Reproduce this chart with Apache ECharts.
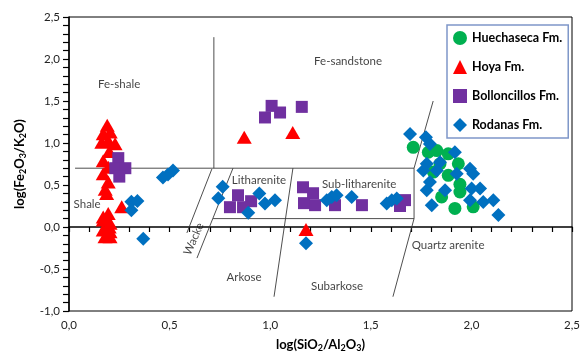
<!DOCTYPE html>
<html><head><meta charset="utf-8">
<script src="https://cdn.jsdelivr.net/npm/echarts@6/dist/echarts.min.js"></script>
<style>html,body{margin:0;padding:0;background:#fff}#c{width:582px;height:352px}</style>
</head><body><div id="c"></div>
<script>
// ---- data ----
const seriesNames = ['Huechaseca Fm.', 'Hoya Fm.', 'Bolloncillos Fm.', 'Rodanas Fm.'];
const huechaseca = [[1.711,0.949],[1.786,0.89],[1.828,0.91],[1.885,0.871],[1.844,0.753],[1.935,0.753],[1.811,0.654],[1.885,0.615],[1.943,0.508],[1.943,0.417],[1.852,0.358],[1.918,0.221],[2.009,0.24]];
const hoya = [[0.19,1.21],[0.17,1.11],[0.205,1.13],[0.163,1.01],[0.195,1.03],[0.229,0.99],[0.2,0.9],[0.17,0.79],[0.195,0.71],[0.17,0.635],[0.195,0.535],[0.18,0.45],[0.187,0.40],[0.262,0.24],[0.195,0.16],[0.17,0.12],[0.17,0.083],[0.204,0.044],[0.2,0.0],[0.17,-0.035],[0.204,-0.056],[0.179,-0.115],[0.204,-0.115],[0.871,1.067],[1.112,1.126],[1.178,-0.03]];
const bolloncillos = [[0.245,0.82],[0.23,0.7],[0.28,0.7],[0.25,0.6],[1.007,1.442],[1.049,1.363],[0.974,1.304],[1.157,1.43],[0.80,0.236],[0.84,0.378],[0.905,0.307],[0.865,0.236],[1.163,0.473],[1.213,0.402],[1.168,0.284],[1.223,0.26],[1.322,0.26],[1.456,0.26],[1.67,0.32],[1.645,0.25]];
const rodanas = [[0.467,0.59],[0.492,0.626],[0.517,0.674],[0.31,0.3],[0.34,0.31],[0.31,0.2],[0.369,-0.14],[0.764,0.48],[0.742,0.343],[0.891,0.169],[0.946,0.398],[0.974,0.28],[1.024,0.319],[1.281,0.319],[1.306,0.358],[1.33,0.378],[1.405,0.358],[1.579,0.28],[1.604,0.319],[1.629,0.339],[1.178,-0.193],[1.695,1.108],[1.774,1.067],[1.794,0.989],[1.918,0.89],[1.778,0.753],[1.844,0.772],[1.761,0.674],[1.828,0.674],[1.927,0.635],[1.993,0.694],[2.009,0.635],[1.794,0.535],[1.778,0.437],[1.869,0.437],[2.001,0.457],[2.043,0.457],[1.993,0.319],[2.059,0.299],[2.109,0.319],[1.803,0.26],[2.134,0.142]];
// classification boundaries (Herron diagram)
const boundaries = [
  [[0.03,0.7],[1.715,0.7]],
  [[0.72,0.7],[0.72,2.26]],
  [[0.71,0.69],[0.586,-0.07]],
  [[0.815,0.7],[0.636,-0.37]],
  [[0.716,0.1],[1.715,0.1]],
  [[1.113,0.7],[1.019,-0.83]],
  [[1.61,-0.83],[1.715,0.1],[1.715,0.7],[1.81,1.5]]
];
const fieldLabels = [
  {name:'Fe-shale', value:[0.249,1.70]},
  {name:'Fe-sandstone', value:[1.387,1.974]},
  {name:'Shale', value:[0.09,0.27]},
  {name:'Litharenite', value:[0.944,0.556]},
  {name:'Sub-litharenite', value:[1.442,0.514]},
  {name:'Arkose', value:[0.87,-0.60]},
  {name:'Subarkose', value:[1.332,-0.70]},
  {name:'Quartz arenite', value:[1.884,-0.213]}
];
const wackeLabel = [{name:'Wacke', value:[0.62,-0.142]}];
const xTicks = {min:0, max:2.5, step:0.5};
const yTicks = {min:-1, max:2.5, step:0.5};

// ---- chart ----
const FONT = 'Lato';
const fmt = v => v.toFixed(1).replace('.', ',');
const chart = echarts.init(document.getElementById('c'));
const lineSeries = boundaries.map(seg => ({
  type:'line', data:seg, symbol:'none', silent:true, z:1,
  lineStyle:{color:'#3a3a3a', width:0.9}, animation:false
}));
const mk = (name, data, symbol, size, color) => ({
  name, type:'scatter', data, symbol, symbolSize:size, z:3,
  itemStyle:{color, opacity:1}, animation:false
});
const sub = {fontFamily:FONT, fontWeight:'bold', fontSize:9, lineHeight:10, verticalAlign:'bottom', color:'#000'};
const main = {fontFamily:FONT, fontWeight:'bold', fontSize:13, lineHeight:17, color:'#000'};
chart.setOption({
  animation:false,
  grid:{left:69, right:10, top:17, bottom:41, show:true, borderColor:'#000', borderWidth:1, outerBoundsMode:'none', containLabel:false},
  xAxis:{type:'value', min:xTicks.min, max:xTicks.max, interval:xTicks.step,
    axisLine:{lineStyle:{color:'#000', width:1.5}},
    axisTick:{show:true, length:5, lineStyle:{color:'#000', width:1.2}},
    minorTick:{show:true, splitNumber:5, length:5, lineStyle:{color:'#000', width:1.2}},
    splitLine:{show:false},
    axisLabel:{formatter:fmt, fontFamily:FONT, fontSize:11.5, color:'#222', margin:8},
    name:'{b|log(SiO}{s|2}{b|/Al}{s|2}{b|O}{s|3}{b|)}', nameLocation:'middle', nameGap:25,
    nameTextStyle:{rich:{b:main, s:sub}}
  },
  yAxis:{type:'value', min:yTicks.min, max:yTicks.max, interval:yTicks.step,
    axisLine:{show:true, lineStyle:{color:'#000', width:1.5}},
    axisTick:{show:true, length:6, lineStyle:{color:'#000', width:1.2}},
    minorTick:{show:true, splitNumber:5, length:6, lineStyle:{color:'#000', width:1.2}},
    splitLine:{show:false},
    axisLabel:{formatter:fmt, fontFamily:FONT, fontSize:11.5, color:'#222', margin:9},
    name:'{b|log(Fe}{s|2}{b|O}{s|3}{b|/K}{s|2}{b|O)}', nameLocation:'middle', nameGap:41, nameRotate:90,
    nameTextStyle:{rich:{b:main, s:sub}}
  },
  legend:{
    orient:'vertical', left:447, top:25, itemWidth:14, itemHeight:14, itemGap:15,
    padding:[6,6,6,6], backgroundColor:'#fff', borderColor:'#7f97c9', borderWidth:1.5,
    textStyle:{fontFamily:FONT, fontWeight:'bold', fontSize:12.5, color:'#000'},
    data:[
      {name:seriesNames[0], icon:'circle'},
      {name:seriesNames[1], icon:'triangle'},
      {name:seriesNames[2], icon:'rect'},
      {name:seriesNames[3], icon:'diamond'}
    ]
  },
  series:[
    ...lineSeries,
    {type:'scatter', data:fieldLabels, symbolSize:0, silent:true, z:2,
      label:{show:true, position:'inside', formatter:p=>p.name, fontFamily:FONT, fontSize:11.5, color:'#111'}},
    {type:'scatter', data:wackeLabel, symbolSize:0, silent:true, z:2,
      label:{show:true, position:'inside', rotate:66, formatter:p=>p.name, fontFamily:FONT, fontSize:11.5, color:'#111'}},
    mk(seriesNames[1], hoya, 'triangle', [15,13], '#FF0000'),
    mk(seriesNames[2], bolloncillos, 'rect', 12, '#7030A0'),
    mk(seriesNames[0], huechaseca, 'circle', 13, '#00B050'),
    mk(seriesNames[3], rodanas, 'diamond', 14, '#0070C0')
  ]
});
</script></body></html>
